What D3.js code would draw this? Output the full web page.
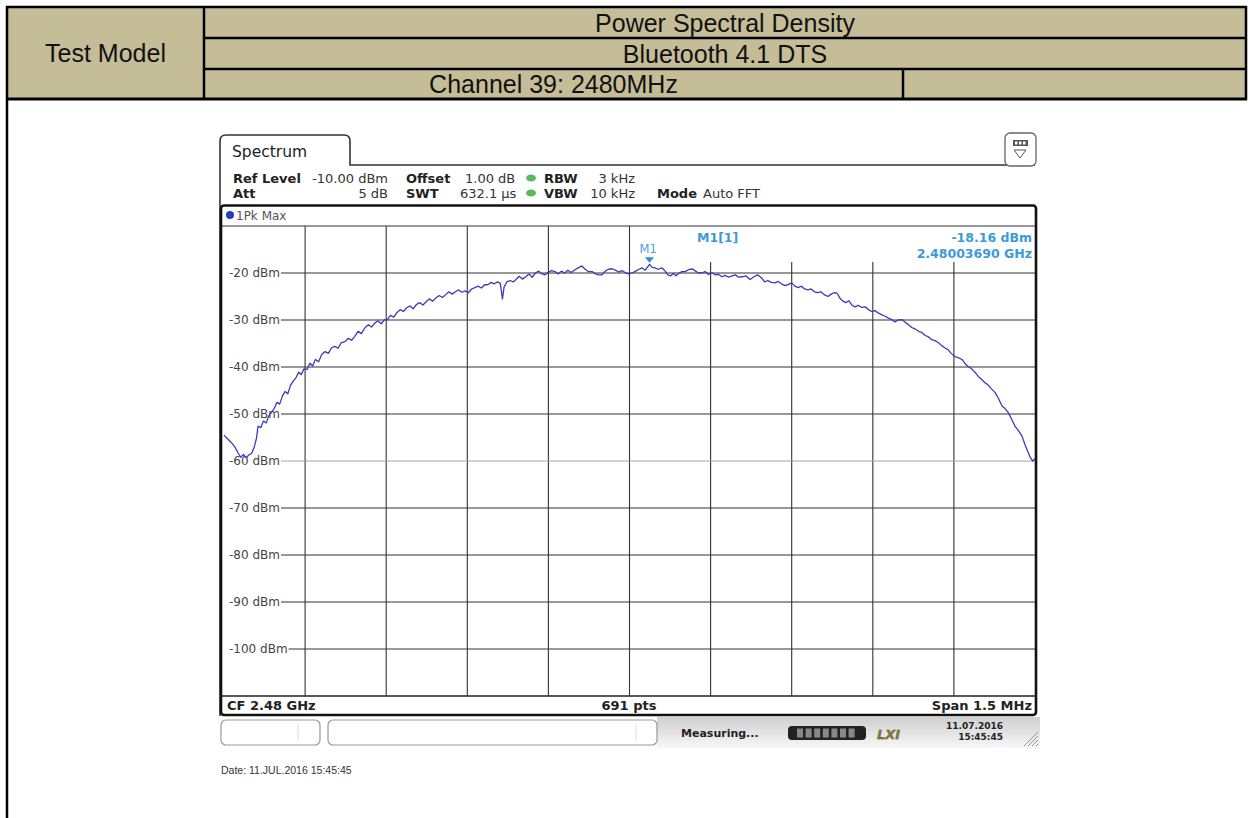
<!DOCTYPE html>
<html><head><meta charset="utf-8">
<script src="https://cdn.jsdelivr.net/npm/d3@7"></script>
<style>
html,body{margin:0;padding:0;background:#fff;}
svg{display:block;}
.inst{font-family:"DejaVu Sans",Verdana,sans-serif;}
.doc{font-family:"Liberation Sans",Arial,sans-serif;}
</style></head>
<body>
<svg id="chart" width="1249" height="818"></svg>
<script>
// ---------- data ----------
const headerTitle = "Power Spectral Density";
const headerMode = "Bluetooth 4.1 DTS";
const headerChannel = "Channel 39: 2480MHz";
const headerLabel = "Test Model";

// frequency offset from CF (kHz) and trace level (dBm)
const traceFreqKHz = [-750,-744,-737,-730,-724,-719,-714,-709,-704,-699,-694,-690,-687,-682,-677,-672,-667,-662,-657,-652,-647,-642,-637,-632,-627,-622,-617,-612,-607,-602,-596,-591,-586,-581,-575,-569,-563,-557,-551,-545,-539,-533,-526,-520,-514,-508,-502,-496,-489,-483,-477,-471,-465,-459,-453,-448,-442,-436,-430,-424,-418,-412,-406,-400,-394,-388,-382,-376,-370,-364,-358,-352,-346,-340,-334,-328,-322,-316,-310,-304,-298,-292,-286,-280,-274,-268,-262,-256,-250,-244,-239,-235,-232,-227,-221,-215,-210,-204,-198,-192,-186,-180,-174,-168,-162,-156,-150,-144,-138,-132,-126,-120,-114,-108,-101,-95,-88,-82,-76,-69,-63,-57,-51,-45,-39,-32,-26,-20,-14,-8,-2,4,10,16,23,29,37,42,47,53,60,66,71,76,81,86,92,97,103,109,116,122,128,134,140,146,153,159,165,171,177,183,190,196,202,208,215,223,230,237,244,250,256,262,269,275,281,288,294,300,306,312,318,324,330,336,342,348,354,360,367,373,378,384,390,395,400,406,411,417,423,429,436,442,448,454,460,467,473,479,485,491,497,504,510,516,522,528,535,541,547,553,559,565,571,577,583,589,595,602,608,615,620,626,632,639,645,651,657,663,669,676,682,689,694,700,706,713,719,726,731,737,742,746,750];
const traceDbm = [-54.5,-55.2,-56.0,-57.0,-58.3,-59.2,-58.6,-59.3,-58.7,-58.4,-57.0,-55.2,-52.6,-52.9,-51.5,-51.9,-50.4,-49.6,-48.8,-47.5,-47.9,-46.2,-45.2,-45.7,-43.9,-43.0,-42.3,-41.1,-41.6,-40.4,-40.5,-39.2,-39.8,-38.4,-38.9,-37.3,-36.7,-37.1,-35.9,-35.6,-36.0,-34.8,-34.6,-33.9,-34.3,-33.5,-32.4,-32.9,-31.6,-31.0,-31.5,-30.6,-30.2,-30.8,-29.9,-29.9,-29.0,-29.4,-28.4,-27.8,-28.2,-27.4,-27.0,-27.6,-26.7,-26.3,-26.8,-26.1,-25.5,-26.0,-25.3,-24.8,-25.2,-24.6,-24.0,-24.5,-24.0,-23.6,-24.1,-23.8,-24.2,-23.4,-23.1,-22.8,-23.2,-22.5,-22.5,-22.0,-22.3,-21.9,-22.2,-25.5,-23.0,-21.9,-21.6,-21.9,-21.4,-20.7,-21.3,-20.8,-20.2,-20.9,-20.0,-19.6,-20.2,-20.4,-19.8,-19.5,-19.7,-20.2,-19.6,-20.0,-19.4,-19.9,-19.3,-18.9,-18.5,-19.2,-19.7,-19.7,-20.2,-20.4,-20.4,-19.6,-19.2,-19.1,-19.4,-19.8,-19.5,-19.9,-20.2,-20.0,-19.7,-19.3,-18.9,-19.4,-18.16,-18.8,-18.9,-19.2,-18.9,-19.6,-20.4,-20.6,-20.1,-20.6,-20.0,-19.7,-19.7,-19.3,-19.1,-19.6,-20.0,-20.0,-19.7,-20.3,-20.0,-20.4,-20.3,-20.8,-20.5,-20.9,-20.6,-20.4,-20.9,-20.8,-20.6,-21.4,-20.8,-20.4,-21.0,-21.9,-21.6,-22.0,-22.1,-21.8,-22.3,-22.7,-22.4,-22.1,-22.8,-23.1,-22.8,-23.4,-23.6,-23.4,-24.0,-24.2,-24.0,-24.6,-25.0,-24.5,-24.2,-24.3,-25.5,-26.0,-26.3,-25.9,-26.8,-27.2,-26.9,-27.3,-27.2,-27.8,-28.2,-28.0,-28.5,-28.9,-29.2,-29.6,-29.9,-30.4,-30.0,-29.9,-30.5,-31.0,-31.6,-31.9,-32.4,-32.7,-33.3,-33.6,-34.2,-34.4,-34.8,-35.4,-35.9,-36.3,-37.1,-37.8,-38.0,-38.4,-39.2,-39.9,-40.3,-41.1,-42.0,-42.6,-43.3,-43.8,-44.6,-45.4,-46.6,-48.3,-48.8,-49.6,-50.9,-52.6,-53.5,-54.7,-56.4,-58.1,-59.4,-60.0,-59.5];

const levelTicks = [-20,-30,-40,-50,-60,-70,-80,-90,-100];
const levelTickLabels = ["-20 dBm","-30 dBm","-40 dBm","-50 dBm","-60 dBm","-70 dBm","-80 dBm","-90 dBm","-100 dBm"];
const freqGridKHz = [-600,-450,-300,-150,0,150,300,450,600];
const markerFreqKHz = 37;
const markerDbm = -18.16;
const markerLabels = ["M1[1]","-18.16 dBm","2.48003690 GHz"];
const settingsRow1 = [["Ref Level","-10.00 dBm"],["Offset","1.00 dB"],["RBW","3 kHz"]];
const settingsRow2 = [["Att","5 dB"],["SWT","632.1 µs"],["VBW","10 kHz"],["Mode","Auto FFT"]];
const footerTexts = ["CF 2.48 GHz","691 pts","Span 1.5 MHz"];
const dateText = "Date: 11.JUL.2016  15:45:45";

// ---------- drawing ----------
const svg = d3.select("#chart");
const x = d3.scaleLinear().domain([-750, 750]).range([224, 1035]);
const y = d3.scaleLinear().domain([-110, -10]).range([696, 226]);

// document table header
const tan = "#c5bd98";
const T = svg.append("g").attr("class","doc");
T.append("rect").attr("x",7).attr("y",7).attr("width",1239).attr("height",92).attr("fill",tan);
const blk = (x1,y1,x2,y2,w) => T.append("line").attr("x1",x1).attr("y1",y1).attr("x2",x2).attr("y2",y2).attr("stroke","#000").attr("stroke-width",w||2.5);
blk(6,7,1247,7); blk(7,6,7,818); blk(1246,6,1246,100); blk(204,6,204,100);
blk(204,38,1246,38); blk(204,69,1246,69); blk(6,99,1247,99,3); blk(903,69,903,100);
const ttxt = (s,cx,cy) => T.append("text").attr("x",cx).attr("y",cy+9).attr("text-anchor","middle")
  .attr("font-size",25).attr("fill","#111").text(s);
ttxt(headerLabel,105.5,53);
ttxt(headerTitle,725,22.5);
ttxt(headerMode,725,53.5);
ttxt(headerChannel,553.5,84);

// instrument screen
const S = svg.append("g").attr("class","inst");
// panel with tab
S.append("path").attr("d","M220,716 L220,141 Q220,135 226,135 L344,135 Q350,135 350,141 L350,165 L1035,165")
  .attr("fill","none").attr("stroke","#333").attr("stroke-width",1.6);
S.append("text").attr("x",232).attr("y",157).attr("font-size",15.5).attr("fill","#222").text("Spectrum");
// icon top right
S.append("rect").attr("x",1005).attr("y",133).attr("width",31).attr("height",33).attr("rx",5)
  .attr("fill","#fff").attr("stroke","#666").attr("stroke-width",1.3);
S.append("rect").attr("x",1013).attr("y",140).attr("width",15).attr("height",6).attr("fill","#555");
[1015,1019,1023].forEach(px=>S.append("rect").attr("x",px).attr("y",141.5).attr("width",2.5).attr("height",3).attr("fill","#fff"));
S.append("path").attr("d","M1014,150 L1026,150 L1020,158 Z").attr("fill","none").attr("stroke","#555").attr("stroke-width",1);

// settings text
function settings(row, yb, xs) {
  row.forEach((p,i) => {
    const c = xs[i];
    S.append("text").attr("x",c[0]).attr("y",yb).attr("font-size",13).attr("font-weight","bold").attr("fill","#222").text(p[0]);
    const t = S.append("text").attr("y",yb).attr("font-size",13).attr("fill","#333").text(p[1]);
    if (c[2]) t.attr("x",c[1]).attr("text-anchor","end"); else t.attr("x",c[1]);
  });
}
settings(settingsRow1, 182.5, [[233,388,true],[406,465],[544,635,true]]);
settings(settingsRow2, 197.5, [[233,388,true],[406,460],[544,635,true],[657,703]]);
[178,193].forEach(cy=>S.append("ellipse").attr("cx",531).attr("cy",cy).attr("rx",5).attr("ry",3.5).attr("fill","#5cb85c"));

// trace window frame
S.append("rect").attr("x",221).attr("y",205.5).attr("width",815).attr("height",509.5).attr("rx",3)
  .attr("fill","#fff").attr("stroke","#111").attr("stroke-width",2.6);
S.append("circle").attr("cx",230).attr("cy",215).attr("r",4).attr("fill","#1f3fbf");
S.append("text").attr("x",236).attr("y",219.5).attr("font-size",12).attr("fill","#555").text("1Pk Max");

// grid
const G = S.append("g");
G.append("line").attr("x1",222).attr("x2",1035).attr("y1",y(-10)).attr("y2",y(-10)).attr("stroke","#333").attr("stroke-width",1.2);
G.append("line").attr("x1",222).attr("x2",1035).attr("y1",y(-110)).attr("y2",y(-110)).attr("stroke","#222").attr("stroke-width",1.4);
G.selectAll("line.v").data(freqGridKHz).join("line").attr("class","v")
  .attr("x1",d=>x(d)).attr("x2",d=>x(d))
  .attr("y1",d=> x(d) > 640 ? 262 : y(-10)).attr("y2",y(-110))
  .attr("stroke","#333").attr("stroke-width",1.1);
levelTicks.forEach((lv,i) => {
  const t = G.append("text").attr("x",229).attr("y",y(lv)+4.3).attr("font-size",12).attr("fill","#444").text(levelTickLabels[i]);
  const w = t.node().getComputedTextLength();
  G.append("line").attr("x1",229+w+1).attr("x2",1035).attr("y1",y(lv)).attr("y2",y(lv))
    .attr("stroke", lv === -60 ? "#9a9a9a" : "#333").attr("stroke-width", lv === -60 ? 0.9 : 1.1);
});

// trace
const pts = traceFreqKHz.map((f,i)=>[f, traceDbm[i]]);
S.append("path").datum(pts)
  .attr("d", d3.line().x(d=>x(d[0])).y(d=>y(d[1])))
  .attr("fill","none").attr("stroke","#3b3bbb").attr("stroke-width",1.3).attr("stroke-linejoin","round");

// marker
const mx = x(markerFreqKHz), my = y(markerDbm);
S.append("path").attr("d",`M${mx-4.5},${my-7} L${mx+4.5},${my-7} L${mx},${my-1.5} Z`).attr("fill","#2a8fd6");
S.append("text").attr("x",mx-10).attr("y",253).attr("font-size",11.5).attr("fill","#4aa3df").text("M1");
S.append("text").attr("x",697).attr("y",241.5).attr("font-size",12.5).attr("font-weight","bold").attr("fill","#3b9bd8").text(markerLabels[0]);
S.append("text").attr("x",1032).attr("y",241.5).attr("text-anchor","end").attr("font-size",12.5).attr("font-weight","bold").attr("fill","#3b9bd8").text(markerLabels[1]);
S.append("text").attr("x",1032).attr("y",257.5).attr("text-anchor","end").attr("font-size",12.5).attr("font-weight","bold").attr("fill","#3b9bd8").text(markerLabels[2]);

// footer row of the trace window
S.append("text").attr("x",227).attr("y",709.5).attr("font-size",13).attr("font-weight","bold").attr("fill","#222").text(footerTexts[0]);
S.append("text").attr("x",629).attr("y",709.5).attr("text-anchor","middle").attr("font-size",13).attr("font-weight","bold").attr("fill","#222").text(footerTexts[1]);
S.append("text").attr("x",1032).attr("y",709.5).attr("text-anchor","end").attr("font-size",13).attr("font-weight","bold").attr("fill","#222").text(footerTexts[2]);

// status bar
const defs = svg.append("defs");
const gr = defs.append("linearGradient").attr("id","sb").attr("x1",0).attr("y1",0).attr("x2",0).attr("y2",1);
gr.append("stop").attr("offset","0%").attr("stop-color","#cfcfcf");
gr.append("stop").attr("offset","100%").attr("stop-color","#f7f7f7");
S.append("rect").attr("x",657).attr("y",717).attr("width",383).attr("height",31).attr("fill","url(#sb)");
S.append("rect").attr("x",221).attr("y",720).attr("width",99).attr("height",25).attr("rx",5).attr("fill","#fff").attr("stroke","#999").attr("stroke-width",1.2);
S.append("rect").attr("x",328).attr("y",720).attr("width",329).attr("height",25).attr("rx",5).attr("fill","#fff").attr("stroke","#999").attr("stroke-width",1.2);
S.append("line").attr("x1",298).attr("x2",298).attr("y1",724).attr("y2",741).attr("stroke","#ddd");
S.append("line").attr("x1",636).attr("x2",636).attr("y1",724).attr("y2",741).attr("stroke","#ddd");
S.append("text").attr("x",681).attr("y",737).attr("font-size",11).attr("font-weight","bold").attr("fill","#222").text("Measuring...");
S.append("rect").attr("x",788).attr("y",726).attr("width",78).attr("height",14).attr("rx",4).attr("fill","#222");
d3.range(7).forEach(i=>S.append("rect").attr("x",797+i*8.6).attr("y",728.5).attr("width",6).attr("height",9).attr("fill","#888"));
S.append("text").attr("x",877).attr("y",739).attr("font-size",13).attr("font-weight","bold").attr("font-style","italic")
  .attr("fill","#5d8f3a").attr("stroke","#a33").attr("stroke-width",0.4).text("LXI");
S.append("text").attr("x",1003).attr("y",729).attr("text-anchor","end").attr("font-size",9).attr("font-weight","bold").attr("fill","#222").text("11.07.2016");
S.append("text").attr("x",1003).attr("y",740).attr("text-anchor","end").attr("font-size",9).attr("font-weight","bold").attr("fill","#222").text("15:45:45");
[0,4,8,12].forEach(o=>S.append("line").attr("x1",1024+o).attr("y1",746).attr("x2",1038).attr("y2",732+o).attr("stroke","#888").attr("stroke-width",0.9));

// date line
svg.append("text").attr("class","doc").attr("x",221).attr("y",774).attr("font-size",10.5).attr("fill","#333").text(dateText);
</script>
</body></html>
